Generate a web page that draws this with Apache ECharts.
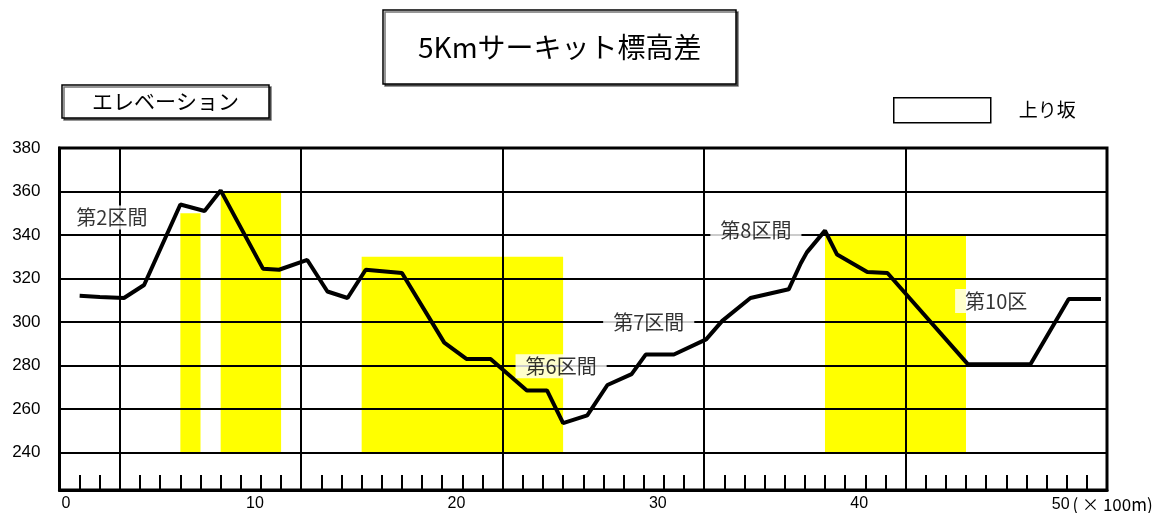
<!DOCTYPE html>
<html><head><meta charset="utf-8">
<script src="https://cdn.jsdelivr.net/npm/echarts@6/dist/echarts.min.js"></script>
<style>html,body{margin:0;padding:0;background:#fff}#c{width:1157px;height:513px}</style>
</head><body><div id="c"></div>
<script>
// ---- data (x in units of 100 m, elevation in m) ----
const distance  = [1.0, 2.0, 3.2, 4.2, 6.0, 7.2, 8.0, 10.1, 10.9, 12.3, 13.3, 14.3, 15.2, 17.0, 19.1, 20.2, 21.4, 23.2, 24.2, 25.0, 26.2, 27.2, 28.4, 29.1, 30.5, 32.1, 32.9, 34.3, 36.2, 36.8, 37.1, 38.0, 38.6, 40.1, 41.1, 45.1, 48.2, 50.1, 51.7];
const elevation = [312, 311.5, 311, 317, 354, 351, 360.5, 324.5, 324, 328.5, 314, 311, 324, 322.5, 290.5, 283, 283, 268.5, 268.5, 253.5, 257, 271, 276, 285, 285, 292, 300.5, 311, 315, 327, 332, 342, 331, 323, 322.5, 280.5, 280.5, 310.5, 310.5];
const bandStart = [6, 8, 15, 38];
const bandEnd   = [7, 11, 25, 45];
const bandTop   = [350, 360, 330, 340];
const bandBase  = 240;
const sectionLines = [3, 12, 22, 32, 42];
const yTicks  = [240, 260, 280, 300, 320, 340, 360, 380];
const xLabels = [0, 10, 20, 30, 40, 50];
const noteText = ['第2区間', '第6区間', '第7区間', '第8区間', '第10区'];
const noteX    = [2.6, 24.9, 29.25, 34.57, 46.5];
const noteY    = [348, 279.6, 300, 342.3, 309.6];

const JP = "'Noto Sans CJK JP', sans-serif";
const NUM = "'Liberation Sans', Arial, sans-serif";

const chart = echarts.init(document.getElementById('c'));
chart.setOption({
  animation: false,
  backgroundColor: '#fff',
  title: [
    { text: '5Kmサーキット標高差', left: 383, top: 10, padding: [23, 35, 23, 35],
      backgroundColor: '#fff', borderColor: '#000', borderWidth: 1.5,
      shadowColor: 'rgba(0,0,0,0.55)', shadowOffsetX: 2, shadowOffsetY: 2,
      textStyle: { fontSize: 28, fontWeight: 'normal', color: '#000', fontFamily: JP } },
    { text: 'エレベーション', left: 62, top: 85, padding: [6, 30, 6, 30],
      backgroundColor: '#fff', borderColor: '#000', borderWidth: 1.5,
      shadowColor: 'rgba(0,0,0,0.55)', shadowOffsetX: 2, shadowOffsetY: 2,
      textStyle: { fontSize: 21, fontWeight: 'normal', color: '#000', fontFamily: JP } }
  ],
  legend: {
    left: 893, top: 97, padding: 0, itemWidth: 97, itemHeight: 25, selectedMode: false,
    data: [{ name: '上り坂', icon: 'rect', itemStyle: { color: '#fff', borderColor: '#000', borderWidth: 1.5 } }],
    textStyle: { fontSize: 19, color: '#000', fontFamily: JP, padding: [0, 0, 0, 23] }
  },
  grid: { left: 59.5, right: 50, top: 148, bottom: 21, show: true, backgroundColor: '#fff',
          borderColor: '#000', borderWidth: 3, containLabel: false },
  xAxis: {
    type: 'value', min: 0, max: 52, interval: 1, z: 3,
    axisLine: { show: true, lineStyle: { color: '#000', width: 3 } },
    axisTick: { show: true, inside: true, length: 15, lineStyle: { color: '#000', width: 2 } },
    splitLine: { show: false },
    axisLabel: {
      customValues: xLabels, margin: 6, color: '#000', fontSize: 16, fontFamily: NUM,
      formatter: function (v) {
        if (v === 0) return '{z|0}';
        if (v === 50) return '{p|}{m|50}{u|( × 100m)}';
        return '{n|' + v + '}';
      },
      rich: {
        z: { fontSize: 16, fontFamily: NUM, color: '#000', padding: [0, 0, 0, 13] },
        n: { fontSize: 16, fontFamily: NUM, color: '#000', padding: [0, 12, 0, 0] },
        m: { fontSize: 16, fontFamily: NUM, color: '#000' },
        p: { width: 74 },
        u: { width: 86, fontSize: 17, fontFamily: JP, color: '#000' }
      }
    }
  },
  yAxis: {
    type: 'value', min: 222.7, max: 380, z: 3,
    axisLine: { show: true, lineStyle: { color: '#000', width: 3 } },
    axisTick: { show: false, customValues: yTicks },
    axisLabel: { customValues: yTicks, margin: 19, color: '#000', fontSize: 17, fontFamily: NUM },
    splitLine: { show: true, lineStyle: { color: '#000', width: 2 } }
  },
  series: [
    {
      name: '上り坂', type: 'custom', z: 1,
      itemStyle: { color: '#ffff00' },
      encode: { x: [0, 1], y: [2, 3] },
      data: bandStart.map((s, i) => [s, bandEnd[i], bandTop[i], bandBase]),
      renderItem: function (params, api) {
        const p0 = api.coord([api.value(0), api.value(2)]);
        const p1 = api.coord([api.value(1), api.value(3)]);
        return { type: 'rect', shape: { x: p0[0], y: p0[1], width: p1[0] - p0[0], height: p1[1] - p0[1] },
                 style: { fill: '#ffff00' } };
      }
    },
    {
      name: 'エレベーション', type: 'line', z: 5, symbol: 'none',
      lineStyle: { color: '#000', width: 4 },
      data: distance.map((d, i) => [d, elevation[i]]),
      markLine: {
        silent: true, symbol: 'none', label: { show: false },
        lineStyle: { color: '#000', width: 2, type: 'solid' },
        data: sectionLines.map(v => ({ xAxis: v }))
      }
    },
    {
      name: 'notes', type: 'scatter', z: 6, symbolSize: 0,
      itemStyle: { color: 'rgba(0,0,0,0)' },
      data: noteText.map((t, i) => ({ name: t, value: [noteX[i], noteY[i]] })),
      label: { show: true, position: 'inside', formatter: '{b}', fontSize: 20, color: '#000',
               fontFamily: JP, backgroundColor: '#fff', padding: [2, 10, 2, 10] }
    }
  ]
});
</script></body></html>
